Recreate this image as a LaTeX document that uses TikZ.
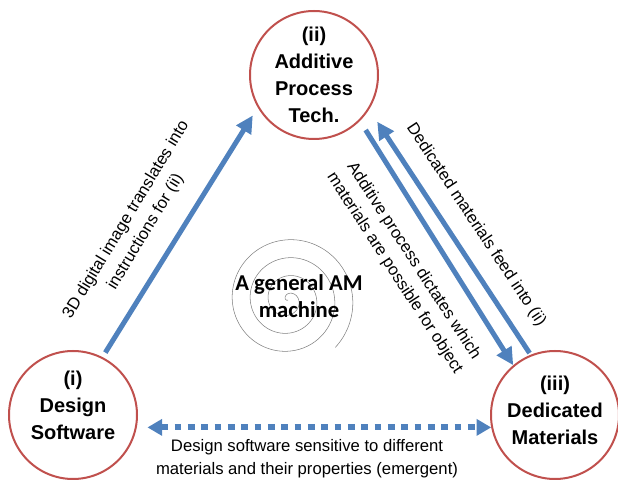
\documentclass[tikz,border=0pt]{standalone}
\usepackage{fontspec}
\setmainfont{Liberation Sans}
\newfontfamily\calibrifont{Carlito}
\usetikzlibrary{arrows.meta}
\definecolor{ringred}{RGB}{192,80,77}
\definecolor{flowblue}{RGB}{79,129,189}
\begin{document}
\begin{tikzpicture}[x=0.75pt,y=0.75pt,yscale=-1,
	stage/.style={circle,draw=ringred,line width=1.5pt,minimum size=96pt,inner sep=0pt,align=center,font=\bfseries\fontsize{15}{20.25}\selectfont},
	flow/.style={draw=flowblue,line width=3.75pt,-{Triangle[length=13pt,width=12.5pt]}},
	emergent/.style={draw=flowblue,line width=4.5pt,dash pattern=on 5pt off 5pt,{Triangle[length=11pt,width=12pt]}-{Triangle[length=11pt,width=12pt]}},
	note/.style={align=center,font=\fontsize{12.5}{17}\selectfont}]
	\path[use as bounding box] (0,0) rectangle (618,484);
	
	%Shape: Spiral
	\draw[gray,line width=0.4pt,shift={(288,300)}] plot[domain=0:1340,samples=270,smooth,variable=\t] ({\t-1295}:{\t*0.05});
	
	%Shape: Circle
	\node[stage,text depth=15pt] (soft) at (73,415) {(i)\\Design\\Software};
	%Shape: Circle
	\node[stage] (proc) at (314,75) {(ii)\\Additive\\Process\\Tech.};
	%Shape: Circle
	\node[stage,text depth=7pt] (mat) at (555,415) {(iii)\\Dedicated\\Materials};
	
	%Straight Lines
	\draw[flow,shorten <=4pt,shorten >=7pt] (soft.63) -- (proc.210);
	%Straight Lines
	\draw[flow,shorten <=8pt] (proc.-45) -- (mat.130);
	%Straight Lines
	\draw[flow,shorten <=1.5pt,shorten >=11pt] (mat.112) -- (proc.-32);
	%Straight Lines
	\draw[emergent,shorten <=8pt] (soft.-11) -- (mat.191);
	
	% Text Node
	\node[note,rotate=58.8] (instr) at (136,226) {3D digital image translates into\\instructions for (ii)};
	% Text Node
	\node[note,rotate=-56.5] (feed) at (476,225) {Dedicated materials feed into (ii)};
	% Text Node
	\node[note,rotate=-57] (dictate) at (404,267) {Additive process dictates which\\materials are possible for object};
	% Text Node
	\node[note] (sensitive) at (307,459) {Design software sensitive to different\\materials and their properties (emergent)};
	% Text Node
	\node[align=center,font=\calibrifont\bfseries\fontsize{17}{20}\selectfont] (machine) at (299,296) {A general AM\\machine};
\end{tikzpicture}
\end{document}
